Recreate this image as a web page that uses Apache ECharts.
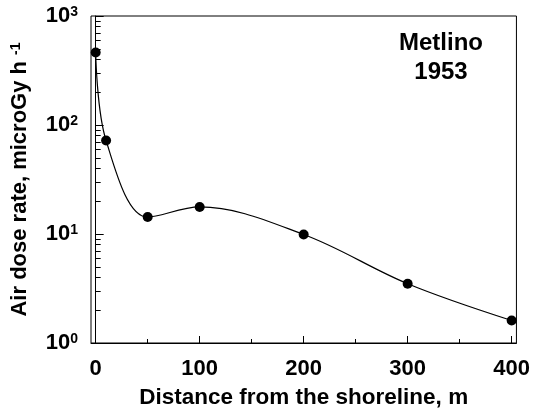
<!DOCTYPE html>
<html><head><meta charset="utf-8">
<script src="https://cdn.jsdelivr.net/npm/echarts@6/dist/echarts.min.js"></script>
<style>html,body{margin:0;padding:0;background:#fff}#c{width:533px;height:414px}</style>
</head><body><div id="c"></div>
<script>
const distances = [0, 10, 50, 100, 200, 300, 400];
const doseRates = [462, 72, 14.3, 17.7, 9.9, 3.5, 1.61];
const xMajorTicks = [0, 100, 200, 300, 400];
const xMinorTicks = [50, 150, 250, 350];
const yMajorTicks = [1, 10, 100, 1000];
const yMinorTicks = [2,3,4,5,6,7,8,9,20,30,40,50,60,70,80,90,200,300,400,500,600,700,800,900];
const titleText = 'Metlino\n1953';
const xName = 'Distance from the shoreline, m';
const yNameMain = 'Air dose rate, microGy h ';
const yNameSup = '-1';

const FONT = 'Liberation Sans, Arial, sans-serif';
const chart = echarts.init(document.getElementById('c'));
const black = '#000';
chart.setOption({
  animation: false,
  grid: {left: 91, right: 15, top: 16, bottom: 67, show: true, borderColor: black, borderWidth: 1, backgroundColor: 'transparent'},
  graphic: [{type: 'text', x: 441, y: 29, style: {text: titleText, font: 'bold 24px ' + FONT, textAlign: 'center', textVerticalAlign: 'top', lineHeight: 29, fill: black}}],
  xAxis: [
    {type: 'value', min: -4.5, max: 404.6, position: 'bottom',
     axisLine: {show: true, lineStyle: {color: black, width: 1}},
     axisTick: {show: true, inside: true, length: 7, lineStyle: {color: black}, customValues: xMajorTicks},
     axisLabel: {show: true, margin: 15, color: black, fontFamily: FONT, fontWeight: 'bold', fontSize: 22, customValues: xMajorTicks},
     splitLine: {show: false},
     name: xName, nameLocation: 'middle', nameGap: 43,
     nameTextStyle: {color: black, fontFamily: FONT, fontWeight: 'bold', fontSize: 22.5}},
    {type: 'value', min: -4.5, max: 404.6, position: 'bottom',
     axisLine: {show: false},
     axisTick: {show: true, inside: true, length: 4, lineStyle: {color: black}, customValues: xMinorTicks},
     axisLabel: {show: false}, splitLine: {show: false}}
  ],
  yAxis: [
    {type: 'log', logBase: 10, min: 1, max: 1000, position: 'left',
     axisLine: {show: true, lineStyle: {color: black, width: 1}},
     axisTick: {show: true, inside: true, length: 8, lineStyle: {color: black}, customValues: yMajorTicks},
     axisLabel: {show: true, margin: 13, customValues: yMajorTicks,
       formatter: v => '{b|10}{s|' + Math.round(Math.log10(v)) + '}',
       rich: {b: {fontFamily: FONT, fontWeight: 'bold', fontSize: 22, color: black, lineHeight: 22},
              s: {fontFamily: FONT, fontWeight: 'bold', fontSize: 14, color: black, verticalAlign: 'top', lineHeight: 14}}},
     splitLine: {show: false}, minorTick: {show: false},
     name: '{a|' + yNameMain + '}{s|' + yNameSup + '}', nameLocation: 'middle', nameGap: 60, nameRotate: 90,
     nameTextStyle: {rich: {a: {fontFamily: FONT, fontWeight: 'bold', fontSize: 22, color: black, lineHeight: 22},
                            s: {fontFamily: FONT, fontWeight: 'bold', fontSize: 14, color: black, verticalAlign: 'top', lineHeight: 14}}}},
    {type: 'log', logBase: 10, min: 1, max: 1000, position: 'left',
     axisLine: {show: false},
     axisTick: {show: true, inside: true, length: 5, lineStyle: {color: black}, customValues: yMinorTicks},
     axisLabel: {show: false}, splitLine: {show: false}}
  ],
  series: [{
    type: 'line', xAxisIndex: 0, yAxisIndex: 0,
    data: distances.map((d, i) => [d, doseRates[i]]),
    smooth: 0.35,
    symbol: 'circle', symbolSize: 10,
    itemStyle: {color: black},
    lineStyle: {color: black, width: 1.2}
  }]
});
</script></body></html>
